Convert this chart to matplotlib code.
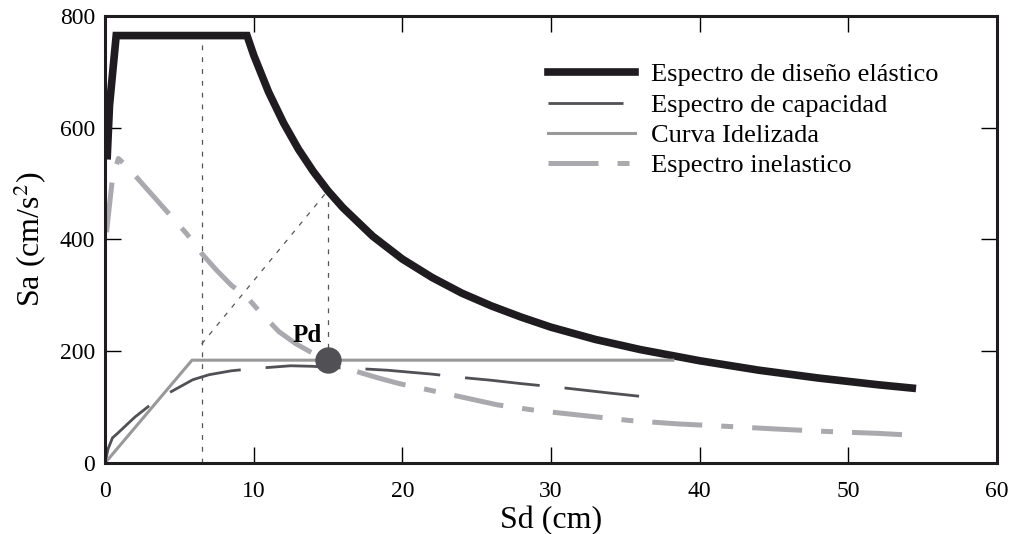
import numpy as np
import matplotlib
matplotlib.use("Agg")
import matplotlib.pyplot as plt

plt.rcParams['font.family'] = ['Liberation Serif', 'DejaVu Serif']
plt.rcParams['mathtext.fontset'] = 'stix'
plt.rcParams['lines.scale_dashes'] = False

# espectro de diseño elastico (Sd cm, Sa cm/s2)
sd_elast = [0.15, 0.3, 0.75, 9.55, 10, 11, 12, 13, 14, 15, 16, 18, 20, 22, 24, 26, 28,
            30, 33, 36, 40, 44, 48, 52, 54.3]
sa_elast = [550, 640, 765, 765, 730, 664, 609, 562, 522, 487, 457, 406, 365, 332, 304,
            281, 261, 243, 221, 203, 183, 166, 152, 140, 134]

# espectro de capacidad
sd_cap = [0, 0.2, 0.5, 0.8, 2, 3, 4.2, 5.9, 7, 8.5, 10, 11, 12.5, 14, 15, 17, 19, 22,
          24, 26, 28, 31, 34, 37.5]
sa_cap = [0, 25, 45, 52, 82, 103, 124, 149, 158, 165, 169, 171, 174, 173, 171, 169,
          166, 159, 153, 148, 142, 134, 125, 115]

# curva idealizada (bilineal)
sd_ideal = [0, 5.85, 38.2]
sa_ideal = [0, 184, 184]

# espectro inelastico
sd_inel = [0.1, 0.5, 0.9, 1.5, 2.5, 3.5, 4.5, 5.5, 6.5, 7.5, 8.5, 9.5, 10.5, 11.7, 12.8,
           13.8, 15, 16.5, 18.4, 19.8, 21.9, 24, 26.4, 29, 31.8, 35.3, 38.5, 41.5, 45,
           48, 52, 54.1]
sa_inel = [413, 510, 545, 530, 500, 470, 440, 410, 375, 345, 318, 298, 268, 235, 214,
           199, 183, 167, 152, 142, 130, 118, 104, 94, 86, 76, 70, 66, 61, 57, 53, 50]

# punto de desempeño
pd_x = [15]
pd_y = [185]

# lineas de referencia
ref_v1_x = [6.5, 6.5]
ref_v1_y = [0, 775]
ref_v2_x = [15, 15]
ref_v2_y = [185, 485]
ref_diag_x = [6.5, 15]
ref_diag_y = [213, 488]

fig = plt.figure(figsize=(10.13, 5.34), dpi=100)
ax = fig.add_axes([0.1037, 0.133, 0.8805, 0.837])

ref_style = dict(color='#555555', lw=0.9, dashes=(3.5, 5))
ax.plot(ref_v1_x, ref_v1_y, **ref_style)
ax.plot(ref_v2_x, ref_v2_y, **ref_style)
ax.plot(ref_diag_x, ref_diag_y, **ref_style)

ax.plot(sd_elast, sa_elast, color='#1e1c1e', lw=5.5, solid_joinstyle='miter',
        label='Espectro de diseño elástico')
ax.plot(sd_cap, sa_cap, color='#505055', lw=2.0, dashes=(54, 18), dash_capstyle='butt',
        label='Espectro de capacidad')
ax.plot(sd_ideal, sa_ideal, color='#999999', lw=2.2, label='Curva Idelizada')
ax.plot(sd_inel, sa_inel, color='#aaaaae', lw=3.6, dashes=(36, 13.7, 8.6, 13.7),
        dash_capstyle='butt', label='Espectro inelastico')

ax.plot(pd_x, pd_y, 'o', color='#505055', ms=18, zorder=5)
ax.text(13.6, 228, 'Pd', fontsize=18, fontweight='bold', ha='center', va='center')

ax.set_xlim(0, 60)
ax.set_ylim(0, 800)
ax.set_xticks([0, 10, 20, 30, 40, 50, 60])
ax.set_yticks([0, 200, 400, 600, 800])
ax.tick_params(axis='both', direction='in', length=11.5, width=1.0, top=True,
               right=True, labelsize=17)
ax.tick_params(axis='x', pad=13)
ax.tick_params(axis='y', pad=7)
for s in ax.spines.values():
    s.set_linewidth(2.2)
    s.set_color('#1e1c1e')

ax.set_xlabel('Sd (cm)', fontsize=23, labelpad=3)
ax.set_ylabel(r'Sa (cm/s$^2$)', fontsize=23, labelpad=8)

ax.legend(loc='upper left', bbox_to_anchor=(0.497, 0.895), frameon=False,
          fontsize=19, handlelength=3.3, handletextpad=0.6, labelspacing=0.26,
          borderpad=0, borderaxespad=0)

fig.savefig('out.png', dpi=100)
